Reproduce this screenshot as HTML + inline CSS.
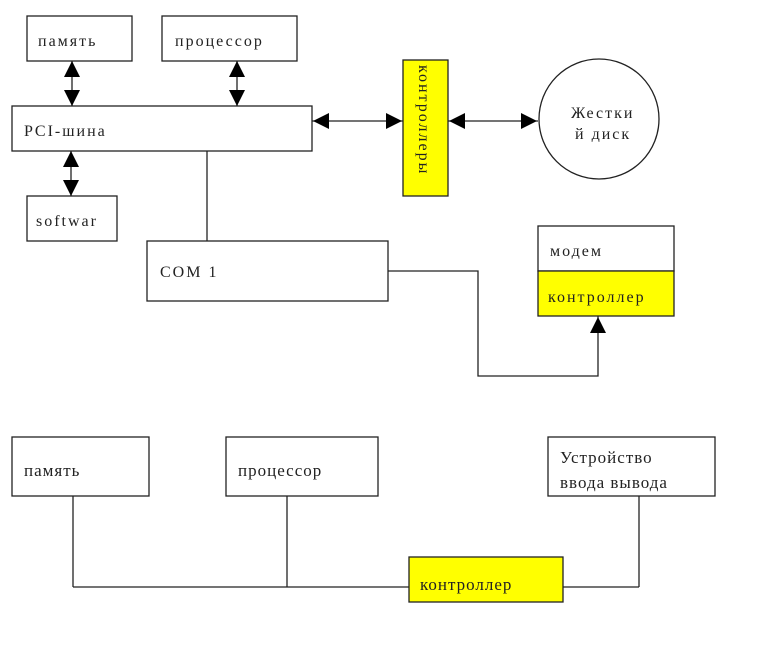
<!DOCTYPE html>
<html><head><meta charset="utf-8"><style>
html,body{margin:0;padding:0;background:#fff;width:771px;height:651px;overflow:hidden}
svg text{font-family:"Liberation Serif","DejaVu Serif",serif;font-size:16px;fill:#222;letter-spacing:2px}
svg text.b{letter-spacing:1px;font-size:17px}
</style></head><body>
<svg width="771" height="651" viewBox="0 0 771 651" xmlns="http://www.w3.org/2000/svg">
<g fill="#fff" stroke="#222" stroke-width="1.3">
<rect x="27" y="16" width="105" height="45"/>
<rect x="162" y="16" width="135" height="45"/>
<rect x="12" y="106" width="300" height="45"/>
<rect x="27" y="196" width="90" height="45"/>
<rect x="403" y="60" width="45" height="136" fill="#ffff00"/>
<circle cx="599" cy="119" r="60"/>
<rect x="147" y="241" width="241" height="60"/>
<rect x="538" y="226" width="136" height="45"/>
<rect x="538" y="271" width="136" height="45" fill="#ffff00"/>
<rect x="12" y="437" width="137" height="59"/>
<rect x="226" y="437" width="152" height="59"/>
<rect x="548" y="437" width="167" height="59"/>
</g>
<g fill="none" stroke="#222" stroke-width="1.3">
<line x1="72" y1="61" x2="72" y2="106"/>
<line x1="237" y1="61" x2="237" y2="106"/>
<line x1="71" y1="151" x2="71" y2="196"/>
<line x1="312" y1="121" x2="403" y2="121"/>
<line x1="448" y1="121" x2="538" y2="121"/>
<line x1="207" y1="151" x2="207" y2="241"/>
<polyline points="388,271 478,271 478,376 598,376 598,316"/>
<line x1="73" y1="496" x2="73" y2="587"/>
<line x1="287" y1="496" x2="287" y2="587"/>
<line x1="73" y1="587" x2="409" y2="587"/>
<line x1="563" y1="587" x2="639" y2="587"/>
<line x1="639" y1="496" x2="639" y2="587"/>
</g>
<rect x="409" y="557" width="154" height="45" fill="#ffff00" stroke="#222" stroke-width="1.3"/>
<g fill="#000">
<polygon points="72,61 64,77 80,77"/><polygon points="72,106 64,90 80,90"/>
<polygon points="237,61 229,77 245,77"/><polygon points="237,106 229,90 245,90"/>
<polygon points="71,151 63,167 79,167"/><polygon points="71,196 63,180 79,180"/>
<polygon points="313,121 329,113 329,129"/><polygon points="402,121 386,113 386,129"/>
<polygon points="449,121 465,113 465,129"/><polygon points="537,121 521,113 521,129"/>
<polygon points="598,317 590,333 606,333"/>
</g>
<text x="38" y="46">память</text>
<text x="175" y="46">процессор</text>
<text x="24" y="136" font-size="17">PCI-шина</text>
<text x="36" y="226">softwar</text>
<text transform="translate(419,65) rotate(90)">контроллеры</text>
<text x="571" y="118">Жестки</text>
<text x="575" y="139">й диск</text>
<text x="160" y="277" font-size="17">COM 1</text>
<text x="550" y="256">модем</text>
<text x="548" y="302">контроллер</text>
<text class="b" x="24" y="476">память</text>
<text class="b" x="238" y="476">процессор</text>
<text class="b" x="560" y="463">Устройство</text>
<text class="b" x="560" y="488">ввода вывода</text>
<text class="b" x="420" y="590">контроллер</text>
</svg>
</body></html>
